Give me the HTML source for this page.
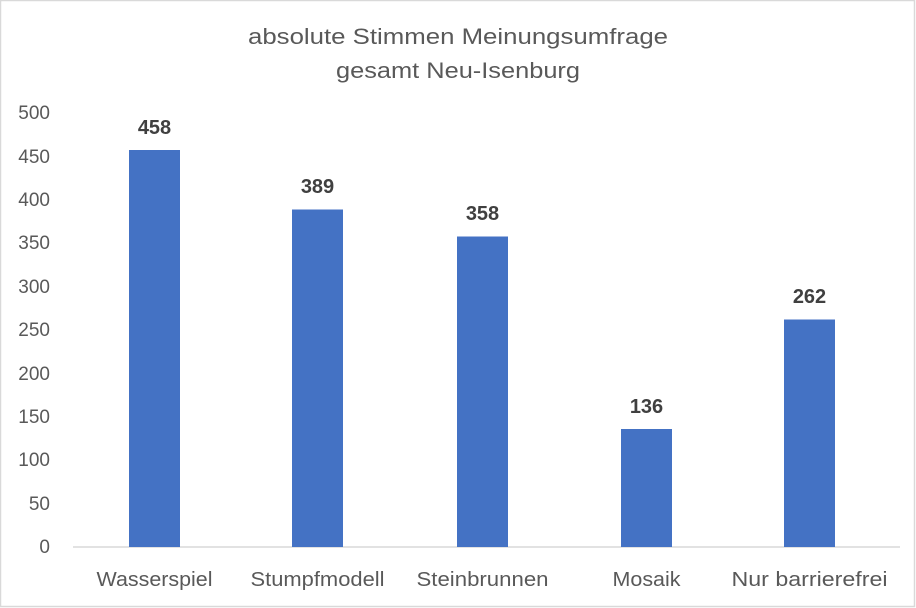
<!DOCTYPE html>
<html><head><style>body{margin:0;background:#fff}svg{display:block}</style></head><body>
<svg width="916" height="608" xmlns="http://www.w3.org/2000/svg" font-family="Liberation Sans, sans-serif">
<rect x="0.5" y="0.5" width="914" height="606" fill="#fff" stroke="#d9d9d9" stroke-width="1.5"/>
<text x="458" y="44" font-size="22" fill="#595959" text-anchor="middle" textLength="420" lengthAdjust="spacingAndGlyphs">absolute Stimmen Meinungsumfrage</text>
<text x="458" y="78" font-size="22" fill="#595959" text-anchor="middle" textLength="244" lengthAdjust="spacingAndGlyphs">gesamt Neu-Isenburg</text>
<g font-size="19" fill="#595959" text-anchor="end">
<text x="50" y="553">0</text><text x="50" y="510">50</text><text x="50" y="466">100</text><text x="50" y="423">150</text><text x="50" y="380">200</text><text x="50" y="336">250</text><text x="50" y="293">300</text><text x="50" y="249">350</text><text x="50" y="206">400</text><text x="50" y="163">450</text><text x="50" y="119">500</text>
</g>
<line x1="73" y1="547" x2="900" y2="547" stroke="#d9d9d9" stroke-width="1.5"/>
<g fill="#4472c4">
<rect x="129" y="150" width="51" height="397"/>
<rect x="292" y="209.5" width="51" height="337.5"/>
<rect x="457" y="236.5" width="51" height="310.5"/>
<rect x="621" y="429" width="51" height="118"/>
<rect x="784" y="319.5" width="51" height="227.5"/>
</g>
<g font-size="20" font-weight="bold" fill="#404040" text-anchor="middle">
<text x="154.5" y="134">458</text><text x="317.5" y="193">389</text><text x="482.5" y="220">358</text><text x="646.5" y="413">136</text><text x="809.5" y="303">262</text>
</g>
<g font-size="20" fill="#595959" text-anchor="middle" lengthAdjust="spacingAndGlyphs">
<text x="154.5" y="586" textLength="116" lengthAdjust="spacingAndGlyphs">Wasserspiel</text><text x="317.5" y="586" textLength="134" lengthAdjust="spacingAndGlyphs">Stumpfmodell</text><text x="482.5" y="586" textLength="132" lengthAdjust="spacingAndGlyphs">Steinbrunnen</text><text x="646.5" y="586" textLength="68" lengthAdjust="spacingAndGlyphs">Mosaik</text><text x="809.5" y="586" textLength="156" lengthAdjust="spacingAndGlyphs">Nur barrierefrei</text>
</g>
</svg>
</body></html>
